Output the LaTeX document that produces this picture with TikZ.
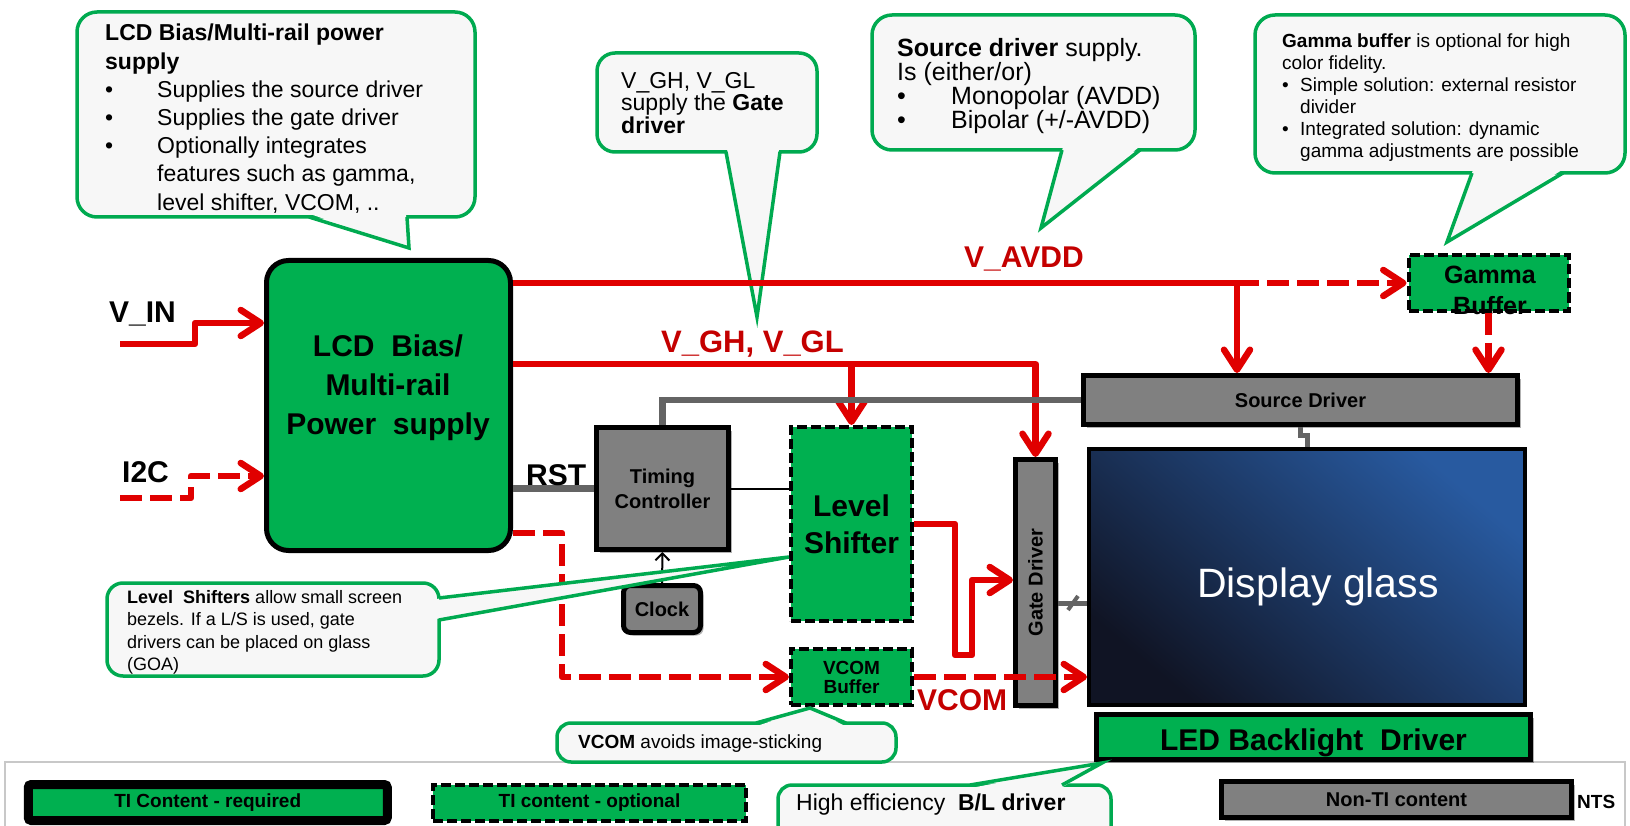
\documentclass[tikz,border=0pt]{standalone}
\usepackage{fontspec}
\setmainfont{Liberation Sans}
\usetikzlibrary{arrows.meta,shadows}
\newcommand\myfs[2]{\fontsize{#1}{#2}\selectfont}
\definecolor{tigreen}{RGB}{0,176,80}
\definecolor{bubgreen}{RGB}{0,170,80}
\definecolor{bubfill}{RGB}{247,247,247}
\definecolor{wirered}{RGB}{224,0,0}
\definecolor{lblred}{RGB}{196,0,0}
\definecolor{nongray}{RGB}{128,128,128}
\definecolor{cgray}{RGB}{100,100,100}
\definecolor{navyA}{RGB}{16,20,36}
\definecolor{navyM}{RGB}{24,40,82}
\definecolor{navyB}{RGB}{40,90,160}
\definecolor{framegray}{RGB}{200,200,200}
\begin{document}
\begin{tikzpicture}[x=1pt,y=-1pt,
  reqbox/.style={draw=black,line width=5pt,fill=tigreen,inner sep=0pt},
  optbox/.style={draw=black,line width=4pt,dash pattern=on 10pt off 4pt,fill=tigreen,inner sep=0pt},
  nonbox/.style={draw=black,line width=5pt,fill=nongray,inner sep=0pt},
  shad/.style={drop shadow={shadow xshift=3pt,shadow yshift=-3pt,opacity=0.3,fill=black}},
  wire/.style={draw=wirered,line width=6.5pt,line join=round},
  wdash/.style={wire,dash pattern=on 22pt off 8pt},
  arr/.style={-{Straight Barb[length=20pt,width=26pt,round]}},
  gwire/.style={draw=cgray,line width=6.5pt},
  bub/.style={draw=bubgreen,fill=bubfill,line width=3.5pt,rounded corners=20pt},
  bubtail/.style={draw=bubgreen,line width=3.5pt},
  bubtext/.style={anchor=north west,inner sep=0pt,align=left},
  lbl/.style={anchor=base west,inner sep=0pt,font=\bfseries\myfs{30}{30}},
]
\clip (0,0) rectangle (1630,826);
\fill[white] (0,0) rectangle (1630,826);
\useasboundingbox (0,0) rectangle (1630,826);

% legend frame
\draw[framegray,line width=1.5pt] (5,840) -- (5,762) -- (1625,762) -- (1625,840);

% ---------- upper bubbles ----------
\draw[bub] (77,12) rectangle (475,217);
\fill[bubfill] (310,214) -- (409,248) -- (406,214) -- cycle;
\draw[bubtail] (309,217) -- (409,248) -- (407,217);
\node[bubtext,font=\myfs{23}{28.2}] (b1t) at (105,24)
 {\textbf{LCD Bias/Multi-rail power}\\\textbf{supply}\\
  \makebox[52pt][l]{\textbullet}Supplies the source driver\\
  \makebox[52pt][l]{\textbullet}Supplies the gate driver\\
  \makebox[52pt][l]{\textbullet}Optionally integrates\\
  \hspace*{52pt}features such as gamma,\\
  \hspace*{52pt}level shifter, VCOM, ..};

\draw[bub,rounded corners=18pt] (597,53) rectangle (817,152);
\fill[bubfill] (727,149) -- (757,317) -- (779,149) -- cycle;
\draw[bubtail] (726,152) -- (757,317) -- (780,152);
\node[bubtext,font=\myfs{23}{22.5}] (b2t) at (621,72)
 {V\_GH, V\_GL\\supply the \textbf{Gate}\\\textbf{driver}};

\draw[bub] (872,15) rectangle (1195,150);
\fill[bubfill] (1063,147) -- (1041,228) -- (1139,147) -- cycle;
\draw[bubtail] (1062,150) -- (1041,228) -- (1140,150);
\node[bubtext,font=\myfs{25}{24}] (b3t) at (897,38)
 {\textbf{Source driver} supply.\\Is (either/or)\\
  \makebox[54pt][l]{\textbullet}Monopolar (AVDD)\\
  \makebox[54pt][l]{\textbullet}Bipolar (+/-AVDD)};

\draw[bub] (1255,15) rectangle (1625,173);
\fill[bubfill] (1473,170) -- (1447,242) -- (1562,170) -- cycle;
\draw[bubtail] (1472,173) -- (1447,242) -- (1563,173);
\node[bubtext,font=\myfs{19}{22}] (b4t) at (1282,34)
 {\textbf{Gamma buffer} is optional for high\\color fidelity.\\
  \makebox[18pt][l]{\textbullet}Simple solution: external resistor\\
  \hspace*{18pt}divider\\
  \makebox[18pt][l]{\textbullet}Integrated solution: dynamic\\
  \hspace*{18pt}gamma adjustments are possible};

% ---------- blocks ----------
\node[reqbox,rounded corners=22pt,minimum width=244pt,minimum height=290pt] (lcd) at (388.5,405.5) {};
\node[inner sep=0pt,align=center,font=\bfseries\myfs{30}{39}] (lcdtxt) at (388,388) {LCD\ \ Bias/\\Multi-rail\\Power\ \ supply};
\node[nonbox,shad,minimum width=132pt,minimum height=122pt,align=center,font=\bfseries\myfs{20}{25}] (tc) at (662.5,488.5) {Timing\\Controller};
\node[optbox,minimum width=121pt,minimum height=194pt,align=center,font=\bfseries\myfs{30}{37}] (ls) at (851.5,524) {Level\\Shifter};
\node[nonbox,shad,rounded corners=7pt,minimum width=77pt,minimum height=47pt,font=\bfseries\myfs{20}{20}] (clock) at (662,609) {Clock};
\node[optbox,minimum width=121pt,minimum height=56pt,align=center,font=\bfseries\myfs{19}{19}] (vcom) at (851.5,677) {VCOM\\Buffer};
\node[nonbox,shad,minimum width=40pt,minimum height=246pt,font=\bfseries\myfs{20}{20}] (gate) at (1035.5,582.5) {\rotatebox{90}{Gate Driver}};
\node[nonbox,shad,minimum width=434pt,minimum height=49pt,font=\bfseries\myfs{20}{20}] (src) at (1300.5,400) {Source Driver};
\node[draw=black,line width=4pt,minimum width=436pt,minimum height=256pt,top color=navyB,middle color=navyM,bottom color=navyA,shading angle=-40] (disp) at (1307,577) {};
\node[anchor=base,inner sep=0pt,text=white,font=\myfs{41}{41}] (disptxt) at (1318,597) {Display glass};
\node[reqbox,shad,minimum width=434pt,minimum height=45pt,text height=26pt,text depth=0pt,font=\bfseries\myfs{30}{30}] (led) at (1313.5,737) {LED Backlight\ \ Driver};
\node[optbox,minimum width=160pt,minimum height=55pt] (gamma) at (1488.5,283) {};
\node[inner sep=0pt,align=center,font=\bfseries\myfs{25}{31}] (gammatxt) at (1490,290) {Gamma\\Buffer};

% legend
\node[draw=black,line width=9pt,fill=tigreen,rounded corners=3pt,minimum width=359pt,minimum height=36pt,font=\bfseries\myfs{19}{19}] (legreq) at (207.75,802.5) {TI Content - required};
\node[optbox,minimum width=313pt,minimum height=36pt,font=\bfseries\myfs{19}{19}] (legopt) at (589.5,803) {TI content - optional};
\node[anchor=base west,inner sep=0pt,font=\bfseries\myfs{19}{19}] (nts) at (1577,808) {NTS};
\node[nonbox,shad,minimum width=350pt,minimum height=36pt,font=\bfseries\myfs{20}{20}] (legnon) at (1396.5,799.5) {Non-TI content};

% ---------- wires ----------
\coordinate (yav) at (0,283);
\coordinate (tj) at (1237,283);
\draw[wire] (lcd.east |- yav) -- (tj);
\draw[wdash,arr] (tj) -- (gamma.west);
\draw[wire,arr] (tj) -- (tj |- src.north);
\draw[wdash,arr] (gamma.south) -- (gamma.south |- src.north);

\coordinate (ygh) at (0,364);
\draw[wire,arr] (lcd.east |- ygh) -- (gate.north |- ygh) -- (gate.north);
\draw[wire,arr] (ls.north |- ygh) -- (ls.north);

\coordinate (g1) at (955,655);
\coordinate (g2) at (972,580);
\draw[wire,arr] (ls.east) -| (g1) -| (g2) -- (g2 -| gate.west);

\coordinate (vin) at (120,344);
\coordinate (vin2) at (195,323);
\draw[wire,arr] (vin) -| (vin2) -- (vin2 -| lcd.west);
\coordinate (i2c) at (120,498);
\coordinate (i2c2) at (191,476);
\draw[wdash,arr] (i2c) -| (i2c2) -- (i2c2 -| lcd.west);

\coordinate (vc1) at (562,533);
\draw[wdash,arr] (lcd.east |- vc1) -- (vc1) |- (vcom.west);

\coordinate (yrst) at (0,488.5);
\draw[gwire] (lcd.east |- yrst) -- (tc.west);
\coordinate (gy) at (0,400);
\draw[gwire] (tc.north) -- (tc.north |- gy) -- (gy -| src.west);
\draw[black,line width=2pt] (tc.east) -- (tc.east -| ls.west);
\draw[black,line width=2pt,-{Straight Barb[length=7pt,width=14pt]}] (clock.north) -- (tc.south);
\coordinate (gd) at (0,603);
\draw[gwire,line width=5pt] (gate.east |- gd) -- (gd -| disp.west);
\draw[cgray,line width=4pt] (1068,610) -- (1078,596);
\draw[gwire,line width=5pt] (src.south) -- ++(0,8) -| (disp.north);

\draw[wdash,arr] (vcom.east) -- (vcom.east -| disp.west);

% labels
\node[lbl] (vinl) at (109,322) {V\_IN};
\node[lbl] (i2cl) at (122,482) {I2C};
\node[lbl] (rstl) at (526,485) {RST};
\node[lbl,text=lblred] (avddl) at (964,268) {V\_AVDD};
\node[lbl,text=lblred,font=\bfseries\myfs{31}{31}] (vghl) at (661,352) {V\_GH, V\_GL};
\node[lbl,text=lblred] (vcoml) at (917,710) {VCOM};

% ---------- lower bubbles ----------
\draw[bub,rounded corners=16pt] (107,583) rectangle (439,676);
\fill[bubfill] (436,599) -- (789,557) -- (436,619) -- cycle;
\draw[bubtail] (439,598) -- (789,557) -- (439,620);
\node[bubtext,font=\myfs{18}{22.5}] (b5t) at (127,590)
 {\textbf{Level\ \ Shifters} allow small screen\\bezels. If a L/S is used, gate\\drivers can be placed on glass\\(GOA)};

\draw[bub,rounded corners=14pt] (557,723) rectangle (896,762);
\fill[bubfill] (757,726) -- (810,708) -- (845,726) -- cycle;
\draw[bubtail] (756,723) -- (810,708) -- (846,723);
\node[anchor=base west,inner sep=0pt,font=\myfs{19}{19}] (b6t) at (578,748) {\textbf{VCOM} avoids image-sticking};

\draw[bub,rounded corners=14pt] (778,785) rectangle (1111,850);
\fill[bubfill] (971,788) -- (1102,763) -- (1061,788) -- cycle;
\draw[bubtail] (970,785) -- (1102,763) -- (1062,785);
\node[anchor=base west,inner sep=0pt,font=\myfs{23}{23}] (b7t) at (796,810) {High efficiency\ \ \textbf{B/L driver}};
\end{tikzpicture}
\end{document}
